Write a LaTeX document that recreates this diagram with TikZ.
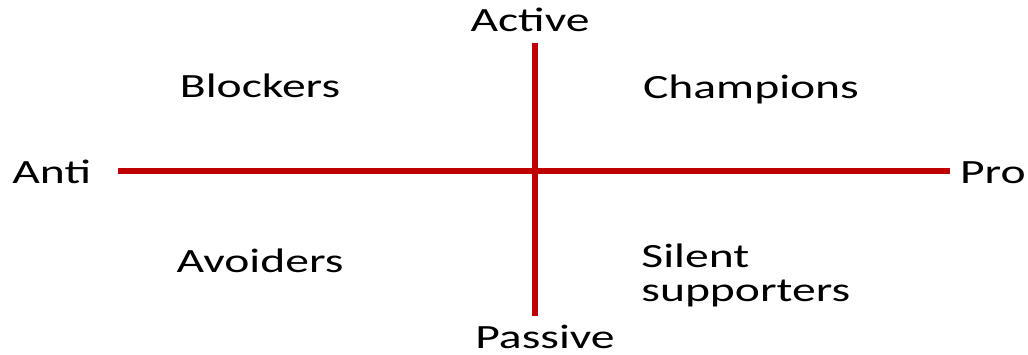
\documentclass[tikz,border=0pt]{standalone}
\usepackage{fontspec}
\setmainfont[FakeStretch=1.4]{Carlito}
\usetikzlibrary{positioning}

\begin{document}
\begin{tikzpicture}[
  x=0.5pt, y=-0.5pt,
  axislabel/.style={font=\fontsize{17}{20}\selectfont, inner sep=0pt, anchor=base},
  quadlabel/.style={font=\fontsize{17}{20}\selectfont, inner sep=0pt, anchor=base},
  axisline/.style={draw=axisred, line width=3pt},
]
\definecolor{axisred}{HTML}{C00000}
\useasboundingbox (0,0) rectangle (1028,354);

% Axis end points
\coordinate (left) at (118,171);
\coordinate (right) at (950,171);
\coordinate (top) at (535,43);
\coordinate (bottom) at (535,316);

% Axes
\draw[axisline] (left) -- (right);
\draw[axisline] (top) -- (bottom);

% Axis labels
\node[axislabel, anchor=base west] (anti) at (12,183) {Anti};
\node[axislabel, anchor=base east] (pro) at (1026,183) {Pro};
\node[axislabel] (active) at (530,31) {Active};
\node[axislabel] (passive) at (545,348) {Passive};

% Quadrants
\node[quadlabel] (blockers) at (260,97) {Blockers};
\node[quadlabel] (champions) at (751,98) {Champions};
\node[quadlabel] (avoiders) at (260,272) {Avoiders};
\node[quadlabel, anchor=base west, align=left] (silent) at (641,301)
  {Silent\\[-3pt]supporters};

\end{tikzpicture}
\end{document}
